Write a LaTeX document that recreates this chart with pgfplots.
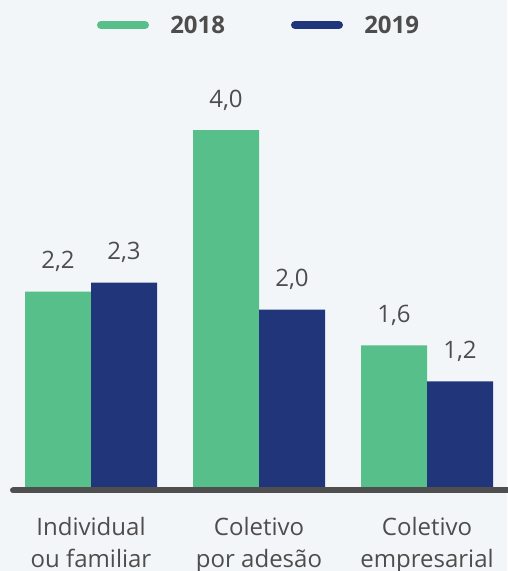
\documentclass[border=0pt]{standalone}
\usepackage{pgfplots}
\pgfplotsset{compat=1.18}
\usepackage{fontspec}
\setmainfont{Open Sans}
\definecolor{bg}{HTML}{F3F6F8}
\definecolor{green18}{HTML}{57C08A}
\definecolor{blue19}{HTML}{21367A}
\definecolor{txt}{HTML}{4D4D4D}
\definecolor{baselinecol}{HTML}{4F4F4F}
\begin{document}
\begin{tikzpicture}[x=0.75pt,y=0.75pt]
\useasboundingbox (0,0) rectangle (507,571);
\fill[bg] (0,0) rectangle (507,571);
\begin{axis}[
  at={(68.25pt,61.5pt)}, anchor=origin, scale only axis,
  width=375pt, height=302.9pt,
  xmin=-0.5, xmax=2.476, ymin=0, ymax=4.5,
  axis line style={draw=none},
  major tick length=0pt, ytick=\empty,
  xtick={0,1,2},
  xticklabels={Individual\\ou familiar, Coletivo\\por adesão, Coletivo\\empresarial},
  xticklabel style={font=\fontsize{18pt}{24pt}\selectfont, text=txt, align=center, anchor=base, yshift=-58.5pt},
  ybar, bar width=49.5pt,
  clip=false,
  nodes near coords,
  point meta=y,
  nodes near coords align={center},
  every node near coord/.append style={font=\fontsize{18pt}{24pt}\selectfont, text=txt, anchor=base, yshift=17pt},
  /pgf/number format/.cd, fixed, fixed zerofill, precision=1, use comma, assume math mode=true,
]
\addplot[fill=green18, draw=none, bar shift=-24.75pt] coordinates {(0,2.2) (1,4.0) (2,1.6)};
\addplot[fill=blue19, draw=none, bar shift=24.75pt] coordinates {(0,2.3) (1,2.0) (2,1.2)};
\end{axis}
\draw[baselinecol, line width=4.5pt, line cap=round] (13,80.5) -- (530,80.5);
% legend
\draw[green18, line width=6pt, line cap=round] (101,546) -- (145,546);
\node[anchor=base west, inner sep=0pt, text=txt, font=\fontsize{18pt}{24pt}\selectfont\bfseries] at (170,537) {2018};
\draw[blue19, line width=6pt, line cap=round] (295,546) -- (339,546);
\node[anchor=base west, inner sep=0pt, text=txt, font=\fontsize{18pt}{24pt}\selectfont\bfseries] at (364,537) {2019};
\end{tikzpicture}
\end{document}
